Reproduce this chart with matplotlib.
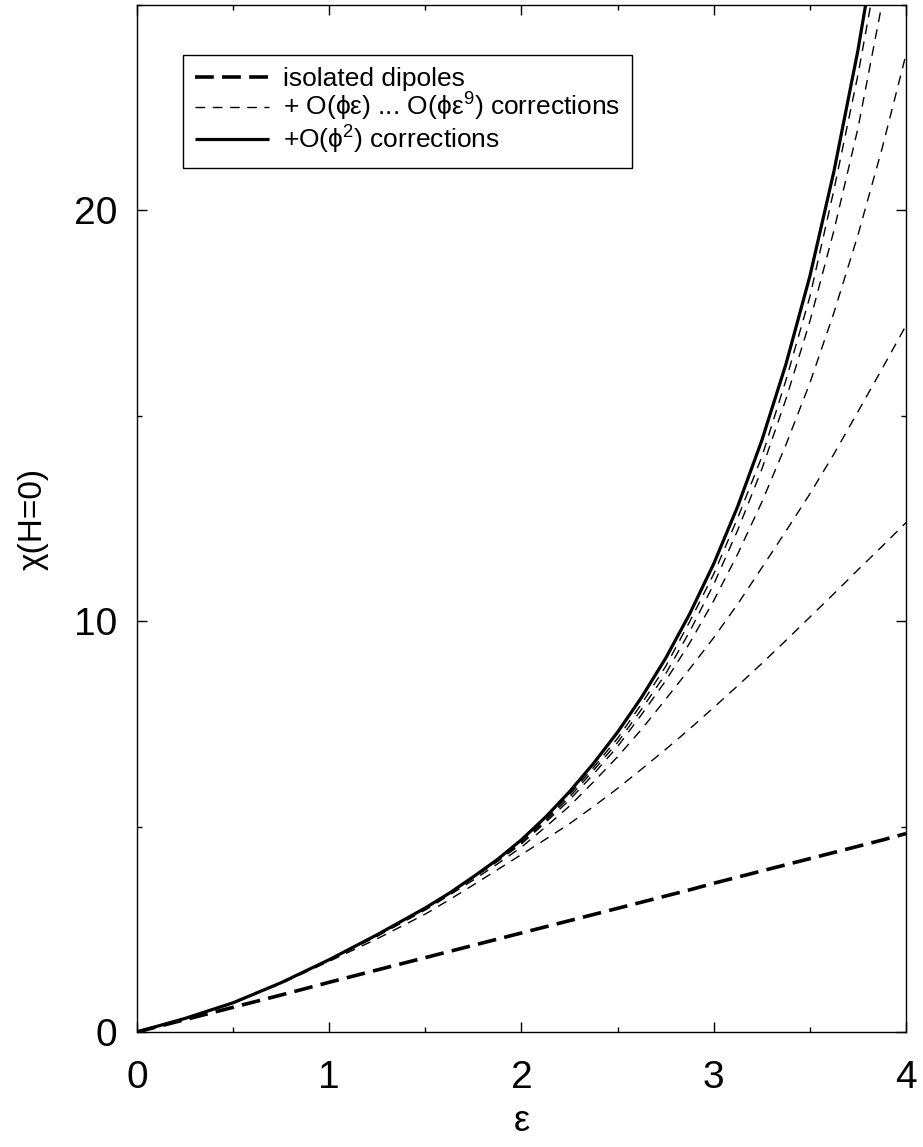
import matplotlib
matplotlib.use('Agg')
import matplotlib.pyplot as plt
from matplotlib.ticker import MultipleLocator

plt.rcParams['font.family'] = ['Liberation Sans', 'DejaVu Sans']
plt.rcParams['mathtext.fontset'] = 'custom'
plt.rcParams['mathtext.rm'] = 'Liberation Sans'
plt.rcParams['mathtext.it'] = 'Liberation Sans:italic'

eps = [0, 0.25, 0.5, 0.75, 1.0, 1.25, 1.5,
       1.625, 1.75, 1.875, 2.0, 2.125, 2.25, 2.375, 2.5, 2.625, 2.75, 2.875,
       3.0, 3.125, 3.25, 3.375, 3.5, 3.625, 3.75, 3.875, 4.0]

# isolated dipoles
chi_dipoles = [0, 0.3, 0.6, 0.9, 1.21, 1.51, 1.81,
               1.96, 2.11, 2.26, 2.41, 2.56, 2.71, 2.86, 3.01, 3.16, 3.31, 3.46,
               3.62, 3.77, 3.92, 4.07, 4.22, 4.37, 4.52, 4.67, 4.83]

# + O(phi eps) ... O(phi eps^9) corrections (one curve per order)
chi_c1 = [0, 0.33, 0.7, 1.18, 1.72, 2.27, 2.87,
          3.22, 3.58, 3.95, 4.32, 4.69, 5.07, 5.49, 5.93, 6.4, 6.88, 7.38,
          7.9, 8.43, 8.97, 9.53, 10.1, 10.67, 11.25, 11.82, 12.4]
chi_c2 = [0, 0.33, 0.71, 1.2, 1.75, 2.33, 2.97,
          3.33, 3.7, 4.09, 4.5, 4.99, 5.5, 6.09, 6.7, 7.37, 8.1, 8.84,
          9.6, 10.42, 11.3, 12.19, 13.1, 14.07, 15.1, 16.14, 17.2]
chi_c3 = [0, 0.33, 0.71, 1.2, 1.75, 2.35, 3.0,
          3.36, 3.75, 4.15, 4.58, 5.1, 5.65, 6.28, 6.95, 7.73, 8.55, 9.47,
          10.5, 11.64, 12.9, 14.29, 15.8, 17.51, 19.4, 21.5, 23.8]
chi_c4 = [0, 0.33, 0.71, 1.2, 1.76, 2.36, 3.01,
          3.37, 3.77, 4.17, 4.6, 5.14, 5.72, 6.37, 7.05, 7.86, 8.72, 9.75,
          10.9, 12.22, 13.7, 15.4, 17.3, 19.51, 22.0, 25.03, 28.5]
chi_c5 = [0, 0.33, 0.71, 1.2, 1.76, 2.36, 3.01,
          3.37, 3.77, 4.18, 4.64, 5.18, 5.78, 6.44, 7.15, 7.99, 8.9, 9.99,
          11.15, 12.52, 14.0, 15.86, 17.9, 20.5, 23.3, 26.5, 30.0]
corrections = [chi_c1, chi_c2, chi_c3, chi_c4, chi_c5]

# + O(phi^2) corrections
chi_phi2 = [0, 0.33, 0.71, 1.2, 1.76, 2.37, 3.02,
            3.38, 3.78, 4.2, 4.68, 5.23, 5.85, 6.54, 7.3, 8.15, 9.1, 10.18,
            11.4, 12.8, 14.4, 16.25, 18.4, 20.95, 23.9, 27.36, 31.3]

fig = plt.figure(figsize=(9.23, 11.47), dpi=100)
ax = fig.add_axes([0.1484, 0.1003, 0.8332, 0.8953])

ax.plot(eps, chi_dipoles, color='black', lw=2.6, dashes=(5.2, 2.3),
        label='isolated dipoles')
for i, c in enumerate(corrections):
    ax.plot(eps, c, color='black', lw=1.0, dashes=(7.0, 5.4),
            label=r'+ O($\mathrm{\phi\epsilon}$) ... O($\mathrm{\phi\epsilon}^{\mathrm{9}}$) corrections' if i == 0 else None)
ax.plot(eps, chi_phi2, color='black', lw=2.3, solid_capstyle='butt',
        label=r'+O($\mathrm{\phi}^{\mathrm{2}}$) corrections')

ax.set_xlim(0, 4)
ax.set_ylim(0, 25)
ax.xaxis.set_major_locator(MultipleLocator(1))
ax.xaxis.set_minor_locator(MultipleLocator(0.5))
ax.yaxis.set_major_locator(MultipleLocator(10))
ax.yaxis.set_minor_locator(MultipleLocator(5))
ax.tick_params(which='both', direction='in', top=True, right=True, width=1.0)
ax.tick_params(which='major', length=7, labelsize=28, pad=14)
ax.tick_params(axis='x', which='major', pad=20)
ax.tick_params(which='minor', length=3.5)
for s in ax.spines.values():
    s.set_linewidth(1.0)

ax.set_xlabel('ε', fontsize=26, labelpad=6)
ax.set_ylabel('χ(H=0)', fontsize=24, labelpad=18)

leg = ax.legend(loc='upper left', bbox_to_anchor=(0.06, 0.951), fontsize=19,
                frameon=True, fancybox=False, edgecolor='black', framealpha=1,
                handlelength=2.8, handletextpad=0.55, labelspacing=0.0,
                borderpad=0.45, borderaxespad=0)
leg.get_frame().set_linewidth(1.0)

fig.savefig('out.png', dpi=100)
